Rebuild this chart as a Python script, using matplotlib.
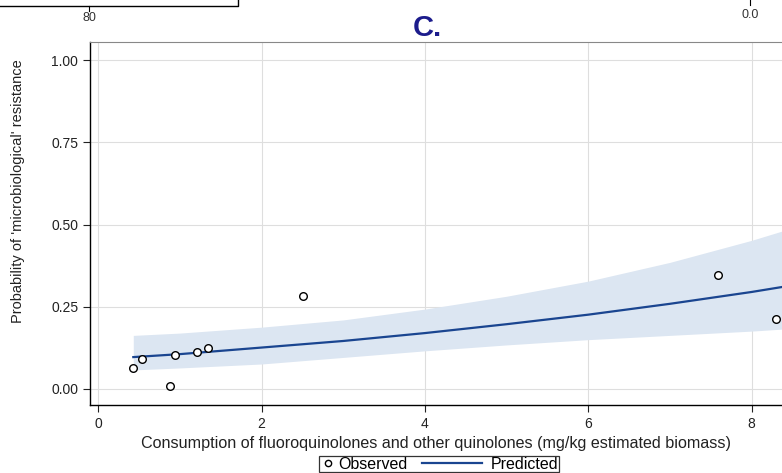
import matplotlib.pyplot as plt
from matplotlib.lines import Line2D
from matplotlib.legend_handler import HandlerLine2D

# observed points (consumption, probability of resistance)
obs_x = [0.43, 0.54, 0.88, 0.94, 1.21, 1.35, 2.51, 7.59, 8.30]
obs_y = [0.064, 0.091, 0.009, 0.103, 0.112, 0.125, 0.283, 0.347, 0.213]

# predicted curve with confidence band
pred_x = [0.43, 1, 2, 3, 4, 5, 6, 7, 8, 8.37]
pred_y = [0.097, 0.106, 0.126, 0.146, 0.170, 0.197, 0.226, 0.259, 0.295, 0.310]
pred_lo = [0.058, 0.064, 0.076, 0.096, 0.116, 0.134, 0.150, 0.163, 0.176, 0.182]
pred_hi = [0.163, 0.170, 0.188, 0.210, 0.243, 0.282, 0.328, 0.385, 0.452, 0.480]

xticks = [0, 2, 4, 6, 8]
yticks = [0.00, 0.25, 0.50, 0.75, 1.00]


class OffsetLine(HandlerLine2D):
    # legend line that reaches further left than its handle box
    def __init__(self, left=0, right=0, **kw):
        super().__init__(**kw)
        self.left = left
        self.right = right

    def create_artists(self, legend, orig_handle, xdescent, ydescent, width, height,
                       fontsize, trans):
        return super().create_artists(legend, orig_handle, xdescent + self.left, ydescent,
                                      width + self.left - self.right, height, fontsize, trans)


plt.rcParams['font.family'] = ['Liberation Sans', 'DejaVu Sans']

fig = plt.figure(figsize=(7.82, 4.73), dpi=100)
ax = fig.add_axes([0.1151, 0.1438, 0.8849, 0.7674])

ax.fill_between(pred_x, pred_lo, pred_hi, color='#dce6f2', lw=0, zorder=1)
ax.plot(pred_x, pred_y, color='#1a4590', lw=1.6, zorder=3, label='Predicted')
ax.scatter(obs_x, obs_y, s=30, facecolors='white', edgecolors='black',
           linewidths=1.0, zorder=4, label='Observed')

ax.set_xlim(-0.1, 8.372)
ax.set_ylim(-0.0486, 1.055)
ax.set_xticks(xticks)
ax.set_yticks(yticks)
ax.set_yticklabels(['%.2f' % v for v in yticks])
ax.grid(True, color='#dedede', lw=0.8, zorder=0)
ax.set_axisbelow(True)
ax.tick_params(direction='out', length=5, width=0.8, labelsize=10, colors='#222222')

ax.spines['right'].set_visible(False)
ax.spines['top'].set_color('#888888')
ax.spines['left'].set_linewidth(1.0)
ax.spines['bottom'].set_linewidth(1.0)

ax.set_xlabel('Consumption of fluoroquinolones and other quinolones (mg/kg estimated biomass)',
              fontsize=11.6, labelpad=4, color='#222222')
ax.set_ylabel("Probability of 'microbiological' resistance", fontsize=10.5,
              color='#222222')
ax.yaxis.set_label_coords(-0.094, 0.589)

h_obs = Line2D([], [], ls='none', marker='o', markersize=4.5, markerfacecolor='white',
               markeredgecolor='black', markeredgewidth=1.0)
h_pred = Line2D([], [], color='#1a4590', lw=1.6)
leg = fig.legend([h_obs, h_pred], ['Observed', 'Predicted'], loc='center', ncol=2,
                 bbox_to_anchor=(0.5614, 0.019), fontsize=11.5, frameon=True,
                 fancybox=False, edgecolor='black', handlelength=1.0,
                 borderpad=0.05, handletextpad=0.12, columnspacing=4.1,
                 handler_map={h_pred: OffsetLine(left=36.7, right=5.0)})
leg.get_frame().set_linewidth(0.9)

fig.text(0.546, 0.94, 'C.', ha='center', va='center', fontsize=21,
         fontweight='bold', color='#1c1c8c')

# fragments of neighbouring panels at the top edge
fig.add_artist(Line2D([0, 238 / 782, 238 / 782], [1 - 6 / 473, 1 - 6 / 473, 1.0],
                      color='black', lw=1.0, transform=fig.transFigure))
fig.add_artist(Line2D([89 / 782, 89 / 782], [1 - 6 / 473, 1 - 11 / 473],
                      color='black', lw=0.8, transform=fig.transFigure))
fig.add_artist(Line2D([750 / 782, 750 / 782], [1.0, 1 - 5 / 473],
                      color='black', lw=0.8, transform=fig.transFigure))
fig.text(89 / 782, 1 - 18 / 473, '80', ha='center', va='center', fontsize=9, color='#333333')
fig.text(750 / 782, 1 - 15 / 473, '0.0', ha='center', va='center', fontsize=9, color='#333333')

fig.savefig('out.png', dpi=100)
